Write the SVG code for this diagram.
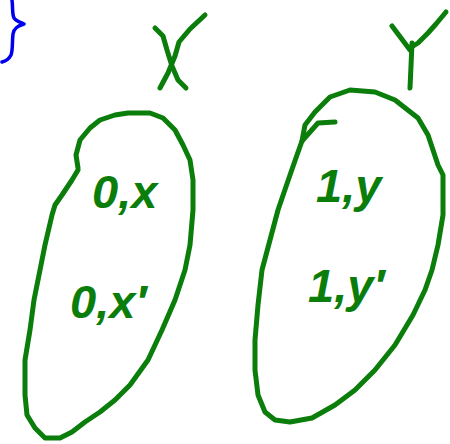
<svg xmlns="http://www.w3.org/2000/svg" width="450" height="444" viewBox="0 0 450 444">
<style>
.ink{fill:none;stroke:#0a7d0a;stroke-width:5;stroke-linecap:round;stroke-linejoin:round}
.blue{fill:none;stroke:#0000ee;stroke-width:3.5;stroke-linecap:round;stroke-linejoin:round}
.hand{fill:#0a7d0a;font-family:"Liberation Sans",Arial,sans-serif;font-weight:bold;font-style:italic}
.big{font-size:47px}
</style>
<rect width="450" height="444" fill="#ffffff"/>
<g id="brace">
<path class="blue" d="M12,0 C13,8 12,14 14,18 C16,21 20,22 24,24 C18,26 14,28 13,34 C12,42 13,50 11,55 C9,59 6,61 2,62"/>
</g>
<g id="set-x">
<polyline class="ink" points="78,168 76,155 80,140 90,128 100,120 115,115 128,113 150,113 163,118 175,130 183,145 190,160 193,180 193,210 190,245 185,270 175,300 162,330 148,360 130,385 115,400 100,412 85,422 72,432 60,438 45,438 35,428 27,415 25,395 25,360 30,330 34,300 40,270 45,245 52,215 55,205 62,195 72,180 78,170"/>
<polyline class="ink" points="155,28 163,36 167,50 172,66 178,80 186,88"/>
<polyline class="ink" points="205,15 190,29 179,42 175,56 168,73 160,88"/>
<text class="hand big" x="92" y="208">0,x</text>
<text class="hand big" x="70" y="318">0,x′</text>
</g>
<g id="set-y">
<polyline class="ink" points="302,141 297,155 290,175 278,210 270,240 262,270 258,305 255,340 255,370 258,395 265,412 275,420 290,422 312,418 335,405 355,390 375,370 395,345 413,315 425,290 432,270 438,245 443,215 443,175 438,165 428,135 418,118 395,100 375,92 350,90 330,97 315,112 305,125 302,141"/>
<polyline class="ink" points="335,122 318,123 302,141"/>
<polyline class="ink" points="392,26 401,38 410,50"/>
<polyline class="ink" points="446,12 436,24 428,33 418,43 410,48"/>
<polyline class="ink" points="412,43 411,66 410,88"/>
<text class="hand big" x="316" y="202">1,y</text>
<text class="hand big" x="308" y="302">1,y′</text>
</g>
</svg>
